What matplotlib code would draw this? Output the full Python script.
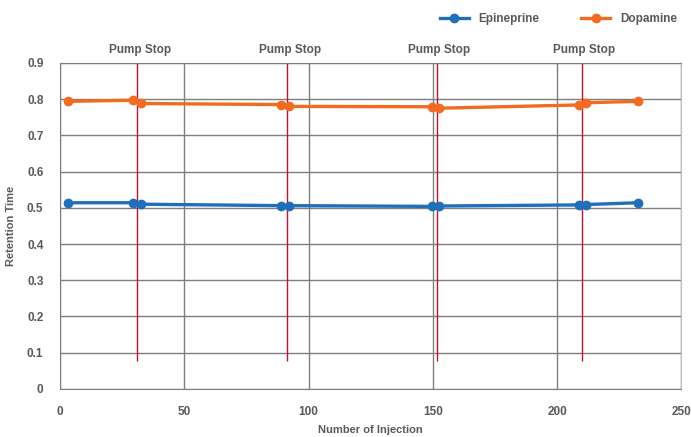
import numpy as np
import matplotlib.pyplot as plt
from matplotlib.ticker import FuncFormatter

# 数据
injection = [3, 29.5, 32.5, 89, 92, 149.5, 152.5, 209, 211.5, 232.5]
epinephrine = [0.514, 0.514, 0.510, 0.506, 0.506, 0.504, 0.505, 0.508, 0.509, 0.514]
dopamine = [0.794, 0.797, 0.788, 0.785, 0.780, 0.779, 0.775, 0.784, 0.790, 0.794]
pump_stop = [31, 91.5, 151.5, 210]
stop_low = 0.078

grey = '#595959'
plt.rcParams['font.family'] = ['Liberation Sans', 'DejaVu Sans']
plt.rcParams['font.weight'] = 'bold'
plt.rcParams['axes.labelweight'] = 'bold'

fig = plt.figure(figsize=(6.91, 4.37), dpi=100)
ax = fig.add_axes([0.087, 0.11, 0.899, 0.746])

ax.set_xlim(0, 250)
ax.set_ylim(0, 0.9)
ax.set_xticks(np.arange(0, 251, 50))
ax.set_yticks(np.arange(0, 0.91, 0.1))
ax.yaxis.set_major_formatter(FuncFormatter(lambda v, p: '0' if v == 0 else '%.1f' % v))
ax.grid(True, color='#7f7f7f', lw=1.0)
ax.set_axisbelow(True)
for s in ax.spines.values():
    s.set_color('#7f7f7f')
ax.spines['right'].set_color('#bfbfbf')
ax.tick_params(length=0, colors=grey, labelsize=8.5, pad=12)

# pump stop 红线
ax.vlines(pump_stop, stop_low, 0.9, color='#c8102e', lw=1.0, zorder=2)
for x in pump_stop:
    ax.text(x + 1, 0.92, 'Pump Stop', ha='center', va='bottom', fontsize=8.5,
            color=grey, clip_on=False)

ax.plot(injection, epinephrine, color='#1f6fba', lw=2.4, marker='o', ms=6,
        label='Epineprine', zorder=3)
ax.plot(injection, dopamine, color='#f26b21', lw=2.4, marker='o', ms=6,
        label='Dopamine', zorder=3)

ax.set_xlabel('Number of Injection', color=grey, fontsize=8, labelpad=5)
ax.set_ylabel('Retention Time', color=grey, fontsize=8, labelpad=8)

leg = fig.legend(loc='upper right', bbox_to_anchor=(0.995, 0.995), ncol=2,
                 frameon=False, fontsize=8.5, columnspacing=3.5, handlelength=2.5)
for t in leg.get_texts():
    t.set_color(grey)

plt.savefig('out.png', dpi=100)
